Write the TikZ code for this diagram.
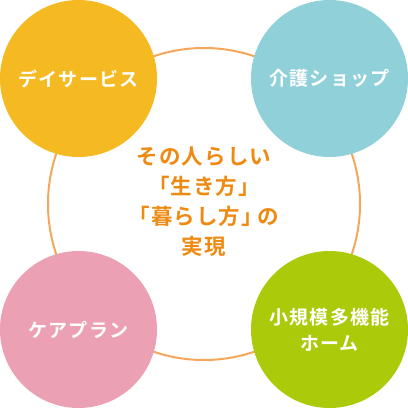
\documentclass[tikz,border=0pt]{standalone}
\usepackage{fontspec}
\newfontfamily\jpsvc{Noto Sans CJK JP Bold}[LetterSpace=6]
\newfontfamily\jpmid{Noto Sans CJK JP Bold}[LetterSpace=5]
\definecolor{ringc}{HTML}{F4A65A}
\definecolor{yelc}{HTML}{F5B922}
\definecolor{bluec}{HTML}{8FD0D9}
\definecolor{pinkc}{HTML}{ECA0B3}
\definecolor{greenc}{HTML}{ABCB0A}
\definecolor{textc}{HTML}{EE8A12}
\tikzset{
  svc/.style={circle, minimum size=157pt, inner sep=0pt, text=white, align=center,
    font=\jpsvc\fontsize{19}{26}\selectfont},
  ring/.style={circle, draw=ringc, line width=2pt, minimum size=312pt, inner sep=0pt},
  mid/.style={text=textc, align=center, font=\jpmid\fontsize{21.5}{30}\selectfont}
}
\begin{document}
\begin{tikzpicture}[x=1pt,y=-1pt]
\useasboundingbox (0,0) rectangle (408,408);
\node[ring] (big) at (204,204) {};
\node[svc, fill=yelc] (day) at (78.5,78.5) {デイサービス};
\node[svc, fill=bluec] (shop) at (329.5,78.5) {介護ショップ};
\node[svc, fill=pinkc] (care) at (78.5,329.5) {ケアプラン};
\node[svc, fill=greenc] (home) at (329.5,329.5) {小規模多機能\\ホーム};
\node[mid] (center) at (204,202) {その人らしい\\「生き方」\\「暮らし方」\kern-5pt の\\実現};
\end{tikzpicture}
\end{document}
